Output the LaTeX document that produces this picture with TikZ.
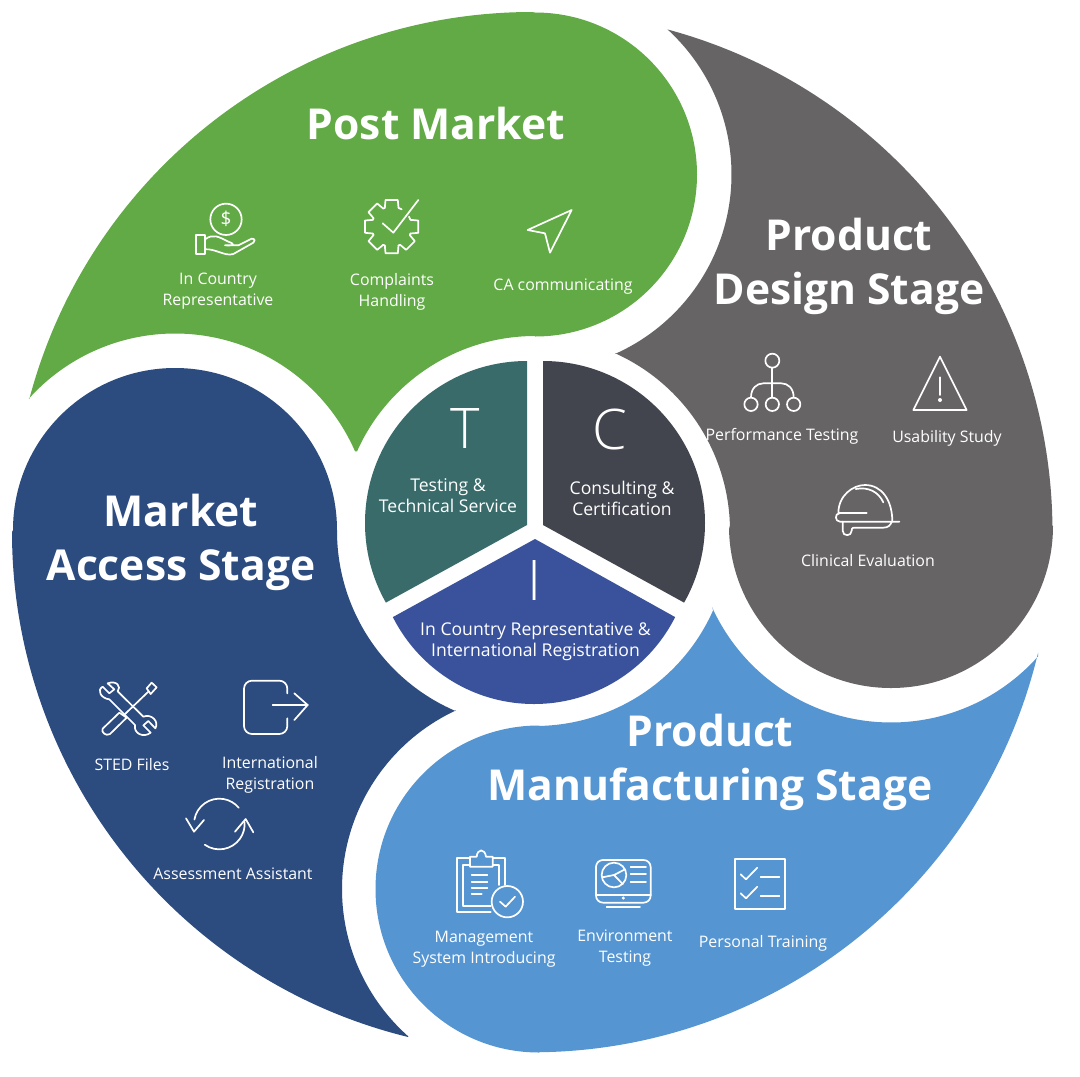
\documentclass[tikz,border=0pt]{standalone}
\usepackage{fontspec}
\setmainfont{Open Sans}
\newfontfamily\lightf{Open Sans Light}
\definecolor{cgreen}{HTML}{62AA45}
\definecolor{cgrey}{HTML}{666465}
\definecolor{clight}{HTML}{5595D2}
\definecolor{cdark}{HTML}{2C4B7F}
\definecolor{cteal}{HTML}{396B6B}
\definecolor{cslate}{HTML}{42444E}
\definecolor{cindigo}{HTML}{3A529C}
\tikzset{
  x=1pt,y=-1pt,
  head/.style={text=white,font=\fontsize{42.6}{54.5}\selectfont\bfseries,align=center,inner sep=0pt},
  lab/.style={text=white,font=\fontsize{15.9}{21}\selectfont,align=center,inner sep=0pt},
  labc/.style={text=white,font=\fontsize{17.6}{21}\selectfont,align=center,inner sep=0pt},
  big/.style={text=white,font=\fontsize{56}{60}\selectfont\lightf,inner sep=0pt},
  ico/.style={draw=white,line width=1.7pt,line join=round,line cap=round},
  icon/.style={shift={#1},scale=1/3}
}
\begin{document}
\begin{tikzpicture}
\useasboundingbox (0,0) rectangle (1080,1077);
\fill[white] (0,0) rectangle (1080,1077);
% Outer petals: circular arcs (lobes r=162, gaps r=196.5, rim r=520)
\fill[cgreen] ([shift={(175,530)}]221.9:196.5) arc[start angle=221.9,end angle=336.4,radius=196.5]
  -- ([shift={(535,531)}]204.1:195) arc[start angle=204.1,end angle=270,radius=195]
  -- ([shift={(535,174.5)}]90:162) arc[start angle=90,end angle=-90,radius=162]
  -- ([shift={(532,532)}]270:520) arc[start angle=270,end angle=194.8,radius=520] -- cycle;
\fill[cgrey] ([shift={(535,174.5)}]-47.6:196.5) arc[start angle=-47.6,end angle=66,radius=196.5]
  -- ([shift={(535,531)}]-65.7:195) arc[start angle=-65.7,end angle=0,radius=195]
  -- ([shift={(891,526)}]180:162) arc[start angle=180,end angle=0,radius=162]
  -- ([shift={(532,532)}]-0.7:520.5) arc[start angle=-0.7,end angle=-74.9,radius=520.5] -- cycle;
\fill[clight] ([shift={(891,526)}]155.7:196.5) arc[start angle=155.7,end angle=41.5,radius=196.5]
  -- ([shift={(532,532)}]13.4:520.3) arc[start angle=13.4,end angle=90,radius=520.3]
  -- ([shift={(539,889)}]90:163.5) arc[start angle=90,end angle=270,radius=163.5]
  -- ([shift={(535,531)}]88.8:195) arc[start angle=88.8,end angle=24,radius=195] -- cycle;
\fill[cdark] ([shift={(539,889)}]131.5:197) arc[start angle=131.5,end angle=245.1,radius=197]
  -- ([shift={(533,531)}]113.3:196) arc[start angle=113.3,end angle=180,radius=196]
  -- ([shift={(175,530)}]0:162) arc[start angle=0,end angle=-180,radius=162]
  -- ([shift={(532,532)}]180:520) arc[start angle=180,end angle=103.8,radius=520] -- cycle;
% Inner sectors
\begin{scope}
\clip (527,523) circle[radius=162];
\fill[cteal] (527,300) -- (527,525) -- (387,602) -- (300,650) -- (300,300) -- cycle;
\end{scope}
\begin{scope}
\clip (543,523) circle[radius=162];
\fill[cslate] (543,300) -- (543,525) -- (683,602) -- (770,650) -- (770,300) -- cycle;
\end{scope}
\begin{scope}
\clip (534,546) circle[radius=158];
\fill[cindigo] (535,539) -- (393,617) -- (320,657) -- (320,760) -- (750,760) -- (750,658) -- (675,617) -- cycle;
\end{scope}
% Headings
\node[head] (hpost) at (436,124) {Post Market};
\node[head] (hdesign) at (849,266.5) {Product\\Design Stage};
\node[head] (haccess) at (181,542.5) {Market\\Access Stage};
\node[head] (hmanu) at (710,762.5) {Product\\Manufacturing Stage};
% Centre
\node[big] (lt) at (465,429) {T};
\node[big] (lc) at (610,429) {C};
\node[big] (li) at (535,581) {I};
\node[labc] (tt) at (448,496) {Testing \&\\Technical Service};
\node[labc] (tc) at (622,498.5) {Consulting \&\\Certification};
\node[labc] (ti) at (535.5,642) {In Country Representative \&\\International Registration};
% Labels
\node[lab] (l1) at (218,291) {In Country\\Representative};
\node[lab] (l2) at (392,292) {Complaints\\Handling};
\node[lab] (l3) at (563,287) {CA communicating};
\node[lab] (l4) at (782,436) {Performance Testing};
\node[lab] (l5) at (947,438) {Usability Study};
\node[lab] (l6) at (868,561) {Clinical Evaluation};
\node[lab] (l7) at (132,765) {STED Files};
\node[lab] (l8) at (270,774.5) {International\\Registration};
\node[lab] (l9) at (233,874) {Assessment Assistant};
\node[lab] (l10) at (484,949) {Management\\System Introducing};
\node[lab] (l11) at (625,948) {Environment\\Testing};
\node[lab] (l12) at (763,943) {Personal Training};
% Icons row 1
\begin{scope}[icon={(150,180)},ico]
\draw (228,118) circle[radius=47];
\node[text=white,font=\fontsize{19}{19}\selectfont,inner sep=0pt] (dollar) at (228,118) {\$};
\draw (138,165) rectangle (165,222);
\draw (165,178) .. controls (190,160) and (205,170) .. (235,185) .. controls (255,192) and (255,198) .. (225,196) -- (265,196) -- (305,176) .. controls (316,176) and (316,184) .. (310,188) -- (250,222) .. controls (225,230) and (195,205) .. (165,208);
\foreach \a in {0,45,90,135,180,225,270} {
  \draw ([shift={(725,140)}]\a-20:60) -- ([shift={(725,140)}]\a-13:82) -- ([shift={(725,140)}]\a+13:82) -- ([shift={(725,140)}]\a+20:60);
}
\foreach \a/\b in {20/25,65/70,110/115,155/160,200/205,245/250,290/300,340/330} {
  \draw ([shift={(725,140)}]\a:60) -- ([shift={(725,140)}]\b:60);
}
\draw (698,130) -- (730,158) -- (805,60);
\draw (1265,90) -- (1133,150) -- (1185,160) -- (1200,218) -- cycle;
\end{scope}
% Icons: design
\begin{scope}[icon={(690,340)},ico]
\draw (247,62) circle[radius=21];
\draw (247,83) -- (247,172);
\draw (183,172) .. controls (183,145) and (200,130) .. (220,130) -- (274,130) .. controls (294,130) and (311,145) .. (311,172);
\draw (183,193) circle[radius=20] (247,193) circle[radius=20] (311,193) circle[radius=20];
\draw (750,50) -- (670,210) -- (830,210) -- cycle;
\draw (750,112) -- (750,165);
\fill[white] (750,180) circle[radius=6];
\draw (445,520) .. controls (445,465) and (490,435) .. (525,435) .. controls (575,435) and (607,480) .. (607,545);
\draw (448,520) -- (530,520);
\draw (628,545) -- (450,545) .. controls (434,545) and (434,520) .. (448,520);
\draw (458,545) -- (458,572) .. controls (458,590) and (485,590) .. (485,572) .. controls (485,562) and (490,563) .. (500,563) -- (580,563) .. controls (595,563) and (602,555) .. (605,545);
\draw (497,447) .. controls (535,440) and (565,455) .. (580,487);
\end{scope}
% Icons: access
\begin{scope}[icon={(80,670)},ico]
\draw (88,88) .. controls (62,85) and (50,60) .. (68,50) -- (88,70) -- (103,58) -- (83,40) .. controls (110,30) and (125,50) .. (113,64) -- (190,140) .. controls (215,130) and (238,155) .. (226,175) -- (205,153) -- (190,166) -- (212,188) .. controls (190,205) and (160,190) .. (165,165) -- cycle;
\draw (200,55) -- (215,38) -- (230,52) -- (212,72) -- cycle;
\draw (205,65) -- (132,135);
\draw (118,128) -- (68,176) .. controls (62,186) and (78,200) .. (90,192) -- (140,143) -- cycle;
\draw[rounded corners=8pt] (622,70) -- (622,32) -- (492,32) -- (492,192) -- (622,192) -- (622,145);
\draw (578,105) -- (683,105);
\draw (643,70) -- (683,105) -- (643,150);
\draw ([shift={(418,462)}]190:76) arc[start angle=190,end angle=320,radius=76];
\draw ([shift={(418,462)}]125:76) arc[start angle=125,end angle=-5,radius=76];
\draw (318,445) -- (342,485) -- (372,450);
\draw (465,485) -- (497,447) -- (520,487);
\end{scope}
% Icons: manufacturing
\begin{scope}[icon={(400,840)},ico]
\draw (210,55) -- (170,55) -- (170,215) -- (272,215);
\draw (210,75) -- (190,75) -- (190,198) -- (272,198);
\draw (280,55) -- (315,55) -- (315,135);
\draw (280,75) -- (298,75) -- (298,135);
\draw (210,50) -- (210,80) -- (278,80) -- (278,50) -- (258,50) .. controls (255,25) and (232,25) .. (230,50) -- cycle;
\draw (215,105) -- (262,105) (215,125) -- (262,125) (215,145) -- (262,145) (215,162) -- (245,162);
\draw (322,185) circle[radius=47];
\draw (300,185) -- (317,200) -- (345,170);
\draw[rounded corners=7pt] (588,60) rectangle (752,188);
\draw (588,165) -- (752,165);
\fill[white] (670,174) circle[radius=5];
\draw (620,200) -- (720,200);
\draw (642,105) circle[radius=37];
\draw (607,112) -- (642,105) -- (675,88) (642,105) -- (668,132);
\draw (692,80) -- (738,80) (692,102) -- (738,102) (692,125) -- (738,125);
\draw (1005,57) rectangle (1155,207);
\draw (1022,103) -- (1038,118) -- (1072,83) (1022,160) -- (1038,175) -- (1072,140);
\draw (1082,110) -- (1138,110) (1082,168) -- (1138,168);
\end{scope}
\end{tikzpicture}
\end{document}
